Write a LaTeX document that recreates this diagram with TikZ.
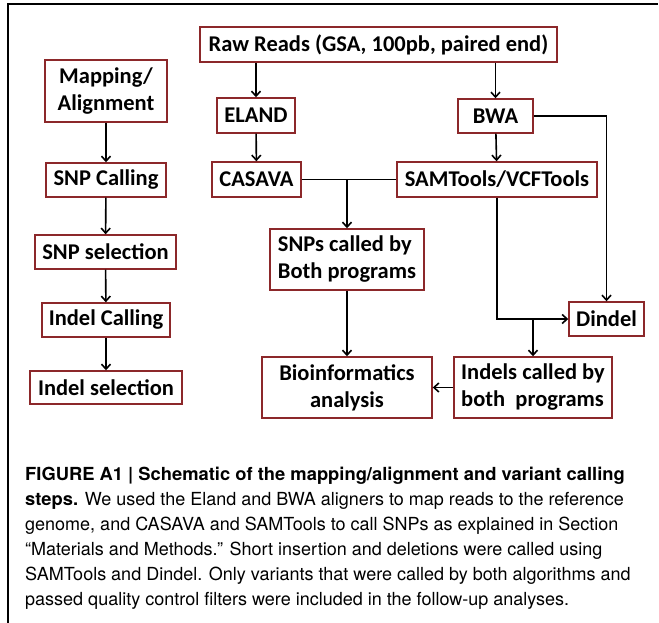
\documentclass[tikz,border=0pt]{standalone}
\usepackage{fontspec}
\newfontfamily\boxfont{Carlito}
\newfontfamily\capfont[BoldFeatures={FakeStretch=1.02}]{TeX Gyre Heros}
\usepackage{tikz}
\usetikzlibrary{shapes,arrows.meta,positioning,calc}
\definecolor{boxred}{RGB}{140,40,42}

\begin{document}
\begin{tikzpicture}[x=1pt, y=-1pt,
    blk/.style={rectangle, draw=boxred, line width=1.4pt, fill=white, inner sep=2pt,
        font=\boxfont\bfseries\fontsize{22.5}{27}\selectfont},
    fl/.style={->, >={Straight Barb[length=5pt,width=9pt]}, line width=1.6pt},
    ln/.style={line width=1.6pt}
]
\useasboundingbox (0,0) rectangle (659,623);
\draw[line width=1.3pt] (8,623) -- (8,4) -- (658,4);

\node[blk, minimum width=357pt, minimum height=35pt] (raw) at (378.5,44.5) {Raw Reads (GSA, 100pb, paired end)};
\node[blk, minimum width=122pt, minimum height=62pt, align=center] (map) at (106,91) {Mapping/\\Alignment};
\node[blk, minimum width=120pt, minimum height=34pt] (snpc) at (106,180) {SNP Calling};
\node[blk, minimum width=141pt, minimum height=34pt] (snpsel) at (105.5,252) {SNP selection};
\node[blk, minimum width=128pt, minimum height=34pt] (indc) at (106,320) {Indel Calling};
\node[blk, minimum width=152pt, minimum height=33pt] (indsel) at (106,387.5) {Indel selection};
\node[blk, minimum width=78pt, minimum height=35pt] (eland) at (256,115.5) {ELAND};
\node[blk, minimum width=89pt, minimum height=35pt] (casava) at (256.5,179.5) {CASAVA};
\node[blk, minimum width=75pt, minimum height=34pt] (bwa) at (495.5,116) {BWA};
\node[blk, minimum width=200pt, minimum height=35pt] (sam) at (497,179.5) {SAMTools/VCFTools};
\node[blk, minimum width=154pt, minimum height=61pt, align=left] (snps) at (347,259.5) {SNPs called by\\Both programs};
\node[blk, minimum width=170pt, minimum height=61pt, align=center] (bio) at (347,387.5) {Bioinformatics\\analysis};
\node[blk, minimum width=75pt, minimum height=34pt] (dindel) at (606.5,319) {Dindel};
\node[blk, minimum width=158pt, minimum height=61pt, align=left] (indels) at (533,387.5) {Indels called by\\both\ \ programs};

\draw[fl] (map) -- (snpc);
\draw[fl] (snpc) -- (snpsel);
\draw[fl] (snpsel) -- (indc);
\draw[fl] (indc) -- (indsel);
\draw[fl] (raw.south -| eland) -- (eland);
\draw[fl] (raw.south -| bwa) -- (bwa);
\draw[fl] (eland) -- (casava);
\draw[fl] (bwa) -- (sam);
\draw[ln] (casava) -- (sam);
\draw[fl] (casava.east -| snps) -- (snps);
\draw[fl] (snps) -- (bio);
\draw[fl] (bwa.east) -| (dindel.north);
\draw[fl] (sam.south) |- (dindel.west);
\draw[fl] (dindel.west -| indels) -- (indels);
\draw[fl] (indels) -- (bio);

\node[anchor=base west, align=left, inner sep=0pt, font=\capfont\fontsize{18}{25}\selectfont] (cap) at (25,605)
  {\textbf{FIGURE A1 | Schematic of the mapping/alignment and variant calling}\\
   \textbf{steps.} We used the Eland and BWA aligners to map reads to the reference\\
   genome, and CASAVA and SAMTools to call SNPs as explained in Section\\
   “Materials and Methods.” Short insertion and deletions were called using\\
   SAMTools and Dindel. Only variants that were called by both algorithms and\\
   passed quality control filters were included in the follow-up analyses.};
\end{tikzpicture}
\end{document}
